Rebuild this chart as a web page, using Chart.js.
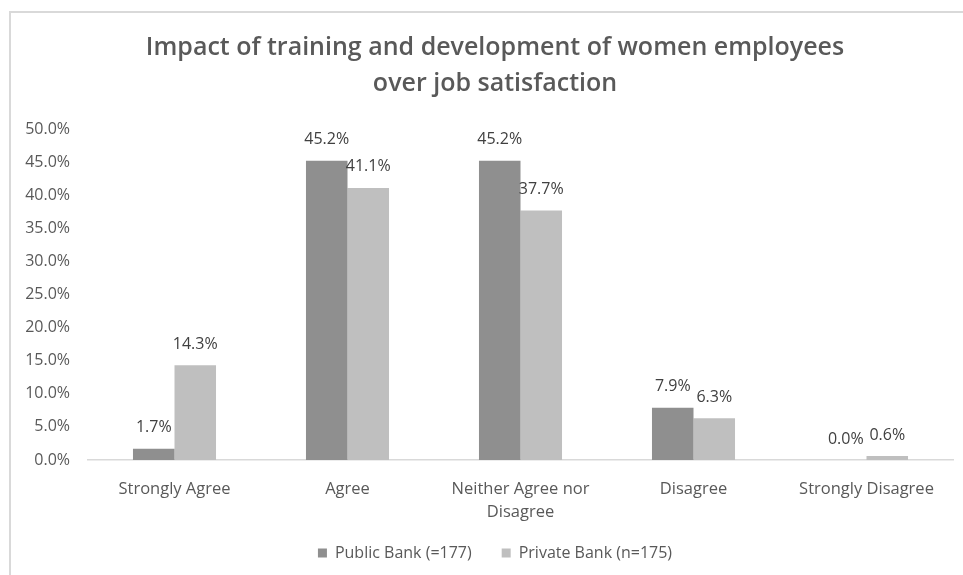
<!DOCTYPE html>
<html>
<head>
<meta charset="utf-8">
<title>Training and job satisfaction</title>
<script src="https://cdn.jsdelivr.net/npm/chart.js@4.4.1/dist/chart.umd.min.js"></script>
<style>
    html, body { margin: 0; padding: 0; background: #fff; overflow: hidden; }
    #wrap { position: relative; width: 963px; height: 575px; }
    /* light frame around the chart, running off the right and bottom edges */
    #frame { position: absolute; left: 9px; top: 11px; width: 1200px; height: 800px; border: 2px solid #d9d9d9; box-sizing: border-box; }
    #grafico { position: absolute; left: 0; top: 0; }
</style>
</head>
<body>
<div id="wrap">
    <div id="frame"></div>
    <canvas id="grafico" width="963" height="575"></canvas>
</div>
<script>
const categorias = ['Strongly Agree', 'Agree', ['Neither Agree nor', 'Disagree'], 'Disagree', 'Strongly Disagree'];
const publicBank = [1.7, 45.2, 45.2, 7.9, 0.0];
const privateBank = [14.3, 41.1, 37.7, 6.3, 0.6];
const yTicks = [0, 5, 10, 15, 20, 25, 30, 35, 40, 45, 50];

const fonte = '"Open Sans", "DejaVu Sans", sans-serif';
const corTexto = '#595959';

// Rótulos de valor acima de cada barra
const rotulosBarras = {
    id: 'rotulosBarras',
    afterDatasetsDraw(chart) {
        const ctx = chart.ctx;
        ctx.save();
        ctx.font = '16px ' + fonte;
        ctx.fillStyle = '#404040';
        ctx.textAlign = 'center';
        ctx.textBaseline = 'middle';
        chart.data.datasets.forEach((ds, i) => {
            chart.getDatasetMeta(i).data.forEach((bar, j) => {
                ctx.fillText(ds.data[j].toFixed(1) + '%', bar.x, bar.y - 21);
            });
        });
        ctx.restore();
    }
};

// Alarga a área de recorte dos eixos para os rótulos não serem cortados
const areaEixos = {
    id: 'areaEixos',
    afterLayout(chart) {
        chart.scales.y.left = 0;
        chart.scales.x.bottom = chart.height;
    }
};

const ctx = document.getElementById('grafico').getContext('2d');
const grafico = new Chart(ctx, {
    type: 'bar',
    data: {
        labels: categorias,
        datasets: [{
            label: 'Public Bank (=177)',
            data: publicBank,
            backgroundColor: '#8f8f8f',
            categoryPercentage: 0.48,
            barPercentage: 1
        }, {
            label: 'Private Bank (n=175)',
            data: privateBank,
            backgroundColor: '#bfbfbf',
            categoryPercentage: 0.48,
            barPercentage: 1
        }]
    },
    options: {
        responsive: false,
        animation: false,
        layout: { padding: { left: 37, right: 10, top: 0, bottom: 4 } },
        plugins: {
            title: {
                display: true,
                text: ['Impact of training and development of women employees', 'over job satisfaction'],
                color: corTexto,
                font: { family: fonte, size: 25, weight: '600', lineHeight: '36px' },
                padding: { top: 30, bottom: 27 }
            },
            legend: {
                position: 'bottom',
                labels: {
                    boxWidth: 9,
                    boxHeight: 9,
                    padding: 30,
                    color: corTexto,
                    font: { family: fonte, size: 16 }
                }
            },
            tooltip: { enabled: false }
        },
        scales: {
            x: {
                grid: { display: false },
                border: { display: true, color: '#d9d9d9', width: 1.5 },
                ticks: {
                    color: corTexto,
                    font: { family: fonte, size: 16.5, lineHeight: 1.4 },
                    padding: 10,
                    maxRotation: 0,
                    autoSkip: false
                },
                afterFit(scale) { scale.height = 55; }
            },
            y: {
                min: 0,
                max: 50,
                grid: { display: false },
                border: { display: false },
                afterBuildTicks(scale) { scale.ticks = yTicks.map(v => ({ value: v })); },
                ticks: {
                    color: corTexto,
                    font: { family: fonte, size: 16 },
                    padding: 10,
                    callback: v => v.toFixed(1) + '%'
                },
                afterFit(scale) { scale.width = 51; }
            }
        }
    },
    plugins: [rotulosBarras, areaEixos]
});
</script>
</body>
</html>
